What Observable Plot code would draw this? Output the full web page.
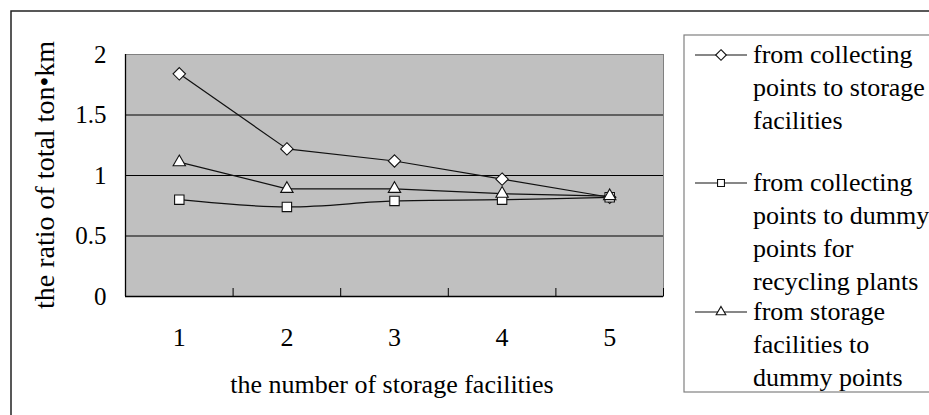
<!DOCTYPE html>
<html>
<head>
<meta charset="utf-8">
<script src="https://cdn.jsdelivr.net/npm/d3@7"></script>
<script src="https://cdn.jsdelivr.net/npm/@observablehq/plot@0.6"></script>
<style>
  body { margin: 0; background: #fff; }
  #chart svg { display: block; }
</style>
</head>
<body>
<div id="chart"></div>
<script>
// Number of storage facilities on the x axis
const storageCounts = [1, 2, 3, 4, 5];

// Ratio of total ton·km for each transport leg
const toStorage = [1.84, 1.22, 1.12, 0.97, 0.82];          // collecting points -> storage facilities
const toDummyRecycling = [0.80, 0.74, 0.79, 0.80, 0.82];   // collecting points -> dummy points for recycling plants
const storageToDummy = [1.11, 0.89, 0.89, 0.85, 0.83];     // storage facilities -> dummy points

const yTicks = [0, 0.5, 1, 1.5, 2];
const gridValues = [0.5, 1, 1.5];
const categoryBounds = [1.5, 2.5, 3.5, 4.5, 5.5];

const xTitle = "the number of storage facilities";
const yTitle = "the ratio of total ton\u2022km";

const legendLines = [
  ["from collecting", "points to storage", "facilities"],
  ["from collecting", "points to dummy", "points for", "recycling plants"],
  ["from storage", "facilities to", "dummy points"]
];
const symbolNames = ["diamond2", "square2", "triangle2"];
const seriesValues = [toStorage, toDummyRecycling, storageToDummy];

const SERIF = "Liberation Serif, Times New Roman, serif";

const rows = seriesValues.flatMap((vals, s) =>
  vals.map((v, i) => ({series: s, n: storageCounts[i], v}))
);
const seriesRows = (s) => rows.filter(d => d.series === s);

const markerRadius = {diamond2: 5.6, square2: 6.0, triangle2: 5.9};

const chart = Plot.plot({
  width: 929,
  height: 415,
  marginLeft: 125,
  marginRight: 266,
  marginTop: 54,
  marginBottom: 119,
  style: {fontFamily: SERIF, background: "white", color: "black", overflow: "visible"},
  x: {type: "linear", domain: [0.5, 5.5]},
  y: {domain: [0, 2]},
  marks: [
    Plot.frame({fill: "#c0c0c0", stroke: "#808080"}),
    Plot.ruleY(gridValues, {stroke: "black", strokeWidth: 1}),
    Plot.ruleX([0.5], {stroke: "black", strokeWidth: 1.3}),
    Plot.ruleY([0], {stroke: "black", strokeWidth: 1.3}),
    Plot.axisX(categoryBounds, {tickSize: -8, tickFormat: () => "", label: null, stroke: "black"}),
    Plot.axisX(storageCounts, {tickSize: 0, tickPadding: 31, fontSize: 26, tickFormat: d => String(d), label: null}),
    Plot.axisY(yTicks, {tickSize: 0, tickPadding: 19, fontSize: 25, tickFormat: d => String(d), label: null}),
    Plot.line(seriesRows(0), {x: "n", y: "v", stroke: "#111", strokeWidth: 1.2}),
    Plot.line(seriesRows(2), {x: "n", y: "v", stroke: "#111", strokeWidth: 1.2}),
    Plot.line(seriesRows(1), {x: "n", y: "v", stroke: "#111", strokeWidth: 1.2, curve: "catmull-rom"}),
    ...symbolNames.map((sym, s) =>
      Plot.dot(seriesRows(s), {x: "n", y: "v", symbol: sym, r: markerRadius[sym], fill: "white", stroke: "#111", strokeWidth: 1.1})
    )
  ]
});

const svg = d3.select(chart);

// Axis titles
svg.append("text")
  .attr("x", 392).attr("y", 393)
  .attr("text-anchor", "middle")
  .attr("font-family", SERIF).attr("font-size", 26)
  .attr("fill", "black")
  .text(xTitle);

svg.append("text")
  .attr("transform", "translate(54,175) rotate(-90)")
  .attr("text-anchor", "middle")
  .attr("font-family", SERIF).attr("font-size", 28)
  .attr("fill", "black")
  .text(yTitle);

// Outer chart border
svg.append("rect")
  .attr("x", 11).attr("y", 11)
  .attr("width", 960).attr("height", 440)
  .attr("fill", "none").attr("stroke", "#222").attr("stroke-width", 1.5);

// Legend
const legend = svg.append("g").attr("text-anchor", "start");
legend.append("rect")
  .attr("x", 684).attr("y", 35)
  .attr("width", 300).attr("height", 357)
  .attr("fill", "white").attr("stroke", "#808080").attr("stroke-width", 1.2);

const entryTop = [55, 183, 312];
const lineStep = 33;
const symbolSize = {diamond2: 4.8, square2: 4.4, triangle2: 4.6};
legendLines.forEach((lines, s) => {
  const y0 = entryTop[s];
  legend.append("line")
    .attr("x1", 695).attr("x2", 747).attr("y1", y0).attr("y2", y0)
    .attr("stroke", "#111").attr("stroke-width", 1.2);
  const sym = {diamond2: d3.symbolDiamond2, square2: d3.symbolSquare2, triangle2: d3.symbolTriangle2}[symbolNames[s]];
  const r = symbolSize[symbolNames[s]];
  legend.append("path")
    .attr("transform", `translate(721,${y0})`)
    .attr("d", d3.symbol(sym, Math.PI * r * r)())
    .attr("fill", "white").attr("stroke", "#111").attr("stroke-width", 1.1);
  lines.forEach((t, k) => {
    legend.append("text")
      .attr("x", 753).attr("y", y0 + k * lineStep)
      .attr("dy", "0.32em")
      .attr("text-anchor", "start")
      .attr("font-family", SERIF).attr("font-size", 26)
      .attr("fill", "black")
      .text(t);
  });
});

document.getElementById("chart").appendChild(chart);
</script>
</body>
</html>
